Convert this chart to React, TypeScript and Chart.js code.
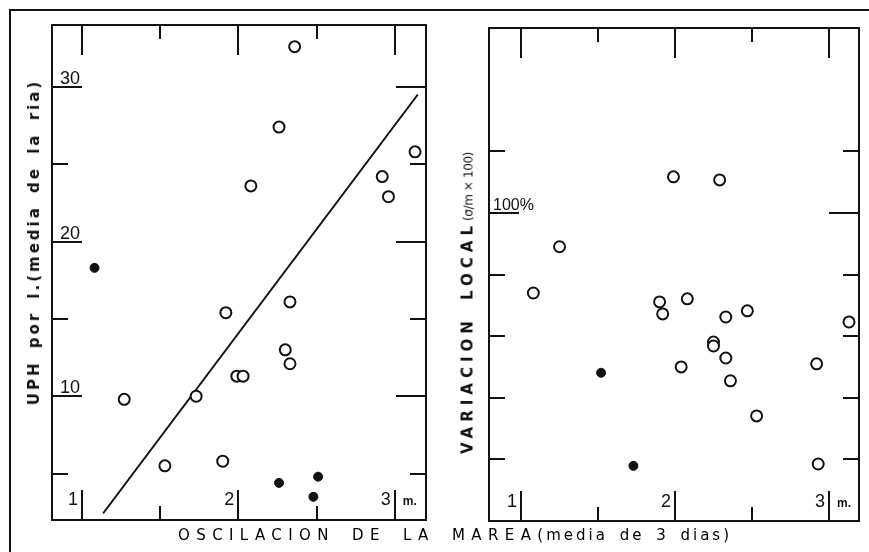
import React, { useEffect, useRef } from "react";
import { Chart, registerables } from "chart.js";

Chart.register(...registerables);

// ---------- Data ----------
// Left panel: UPH por l. vs oscilación de la marea
const leftOpenX = [2.36, 2.26, 3.13, 2.08, 2.92, 2.96, 1.92, 2.33, 2.30, 2.33, 1.99, 2.03, 1.73, 1.27, 1.53, 1.90];
const leftOpenY = [32.6, 27.4, 25.8, 23.6, 24.2, 22.9, 15.4, 16.1, 13.0, 12.1, 11.3, 11.3, 10.0, 9.8, 5.5, 5.8];
const leftFilledX = [1.08, 2.26, 2.51, 2.48];
const leftFilledY = [18.3, 4.4, 4.8, 3.5];
const trendX = [1.135, 3.147];
const trendY = [2.43, 29.5];

// Right panel: variación local vs oscilación de la marea
const rightOpenX = [1.99, 2.29, 1.25, 1.08, 1.90, 1.92, 2.08, 2.33, 2.47, 3.13, 2.25, 2.25, 2.33, 2.04, 2.92, 2.36, 2.53, 2.93];
const rightOpenY = [111.7, 110.7, 89.0, 74.0, 71.1, 67.2, 72.1, 66.2, 68.2, 64.6, 58.1, 56.8, 52.9, 50.0, 51.0, 45.5, 34.1, 18.5];
const rightFilledX = [1.52, 1.73];
const rightFilledY = [48.1, 17.9];

// Ticks
const xTickValues = [1, 1.5, 2, 2.5, 3];
const xTickLabels = ["1", "", "2", "", "3"];
const xUnitLabel = "m.";
const leftYTickValues = [5, 10, 15, 20, 25, 30];
const leftYTickLabels = ["", "10", "", "20", "", "30"];
const rightYTickValues = [20, 40, 60, 80, 100, 120];
const rightYTickLabels = ["", "", "", "", "100%", ""];

const xTitleCaps = "OSCILACION DE LA MAREA";
const xTitleRest = "(media de 3 dias)";
const leftYTitle = "UPH por l.(media de la ria)";
const rightYTitleCaps = "VARIACION LOCAL";
const rightYTitleRest = "(σ/m × 100)";

const toPts = (xs: number[], ys: number[]) => xs.map((x, i) => ({ x, y: ys[i] }));

type PanelProps = {
  left: number;
  width: number;
  padding: { left: number; right: number; top: number; bottom: number };
  xMin: number;
  xMax: number;
  yMin: number;
  yMax: number;
  openX: number[];
  openY: number[];
  filledX: number[];
  filledY: number[];
  lineX?: number[];
  lineY?: number[];
  yTicks: number[];
  yLabels: string[];
  yLabelFont: string;
  yLabelDx: number;
  xLabelBaseline: number;
};

function Panel(p: PanelProps) {
  const ref = useRef<HTMLCanvasElement | null>(null);
  useEffect(() => {
    if (!ref.current) return;
    const framePlugin = {
      id: "frameTicks",
      beforeDatasetsDraw(chart: any) {
        const { ctx, chartArea: a, scales } = chart;
        const sx = scales.x;
        const sy = scales.y;
        ctx.save();
        ctx.strokeStyle = "#111";
        ctx.fillStyle = "#111";
        ctx.lineWidth = 2;
        ctx.lineCap = "butt";
        ctx.strokeRect(a.left, a.top, a.right - a.left, a.bottom - a.top);
        ctx.beginPath();
        xTickValues.forEach((v, i) => {
          const x = Math.round(sx.getPixelForValue(v));
          const major = xTickLabels[i] !== "";
          const l = major ? 30 : 14;
          ctx.moveTo(x, a.top);
          ctx.lineTo(x, a.top + l);
          ctx.moveTo(x, a.bottom);
          ctx.lineTo(x, a.bottom - l);
        });
        p.yTicks.forEach((v, i) => {
          const y = Math.round(sy.getPixelForValue(v));
          const major = p.yLabels[i] !== "";
          const l = major ? 30 : 16;
          ctx.moveTo(a.left, y);
          ctx.lineTo(a.left + l, y);
          ctx.moveTo(a.right, y);
          ctx.lineTo(a.right - l, y);
        });
        ctx.stroke();
        // y labels
        ctx.font = p.yLabelFont;
        ctx.textAlign = "left";
        ctx.textBaseline = "alphabetic";
        p.yTicks.forEach((v, i) => {
          if (!p.yLabels[i]) return;
          const y = sy.getPixelForValue(v);
          ctx.fillText(p.yLabels[i], a.left + p.yLabelDx, y - 3);
        });
        // x labels
        ctx.font = "18px 'Liberation Sans'";
        ctx.textAlign = "right";
        xTickValues.forEach((v, i) => {
          if (!xTickLabels[i]) return;
          const x = sx.getPixelForValue(v);
          ctx.fillText(xTickLabels[i], x - 4, p.xLabelBaseline);
        });
        ctx.font = "bold 12px 'Liberation Sans'";
        ctx.textAlign = "left";
        ctx.fillText(xUnitLabel, sx.getPixelForValue(3) + 8, p.xLabelBaseline);
        ctx.restore();
      },
    };
    const datasets: any[] = [
      {
        data: toPts(p.openX, p.openY),
        pointRadius: 5.5,
        pointBorderWidth: 2,
        pointBorderColor: "#111",
        pointBackgroundColor: "#fff",
        showLine: false,
      },
      {
        data: toPts(p.filledX, p.filledY),
        pointRadius: 4.5,
        pointBorderWidth: 1,
        pointBorderColor: "#111",
        pointBackgroundColor: "#111",
        showLine: false,
      },
    ];
    if (p.lineX && p.lineY) {
      datasets.push({
        data: toPts(p.lineX, p.lineY),
        showLine: true,
        pointRadius: 0,
        borderColor: "#111",
        borderWidth: 1.8,
        fill: false,
      });
    }
    const chart = new Chart(ref.current, {
      type: "scatter",
      data: { datasets },
      options: {
        animation: false,
        responsive: false,
        maintainAspectRatio: false,
        clip: false as any,
        layout: { padding: p.padding },
        plugins: { legend: { display: false }, tooltip: { enabled: false } },
        scales: {
          x: { type: "linear", min: p.xMin, max: p.xMax, display: false },
          y: { type: "linear", min: p.yMin, max: p.yMax, display: false },
        },
      },
      plugins: [framePlugin],
    });
    return () => chart.destroy();
  }, []);
  return (
    <canvas
      ref={ref}
      width={p.width}
      height={552}
      style={{ position: "absolute", left: p.left, top: 0, width: p.width, height: 552 }}
    />
  );
}

export default function App() {
  const titleFont = "'DejaVu Sans', sans-serif";
  return (
    <div style={{ position: "absolute", left: 0, top: 0, width: 869, height: 552, background: "#fff", overflow: "hidden" }}>
      <div
        style={{
          position: "absolute",
          left: 9,
          top: 9,
          width: 870,
          height: 560,
          borderTop: "2px solid #111",
          borderLeft: "2px solid #111",
        }}
      />
      <Panel
        left={0}
        width={440}
        padding={{ left: 52, right: 14, top: 25, bottom: 32 }}
        xMin={0.808}
        xMax={3.2}
        yMin={2}
        yMax={34}
        openX={leftOpenX}
        openY={leftOpenY}
        filledX={leftFilledX}
        filledY={leftFilledY}
        lineX={trendX}
        lineY={trendY}
        yTicks={leftYTickValues}
        yLabels={leftYTickLabels}
        yLabelFont="18px 'Liberation Sans'"
        yLabelDx={8}
        xLabelBaseline={505}
      />
      <Panel
        left={440}
        width={429}
        padding={{ left: 49, right: 10, top: 28, bottom: 31 }}
        xMin={0.792}
        xMax={3.195}
        yMin={0}
        yMax={160}
        openX={rightOpenX}
        openY={rightOpenY}
        filledX={rightFilledX}
        filledY={rightFilledY}
        yTicks={rightYTickValues}
        yLabels={rightYTickLabels}
        yLabelFont="16px 'Liberation Sans'"
        yLabelDx={4}
        xLabelBaseline={507}
      />
      <div
        style={{
          position: "absolute",
          left: 178,
          top: 526,
          fontFamily: titleFont,
          fontSize: 15,
          color: "#000",
          whiteSpace: "nowrap",
          lineHeight: "18px",
        }}
      >
        <span style={{ letterSpacing: 6.4, wordSpacing: 6 }}>{xTitleCaps}</span>
        <span style={{ letterSpacing: 3, wordSpacing: 4 }}>{xTitleRest}</span>
      </div>
      <div
        style={{
          position: "absolute",
          left: 34,
          top: 242,
          transform: "translate(-50%, -50%) rotate(-90deg)",
          fontFamily: titleFont,
          fontSize: 15,
          fontWeight: "bold",
          color: "#111",
          whiteSpace: "nowrap",
          letterSpacing: 3,
          wordSpacing: 4,
          lineHeight: "18px",
        }}
      >
        {leftYTitle}
      </div>
      <div
        style={{
          position: "absolute",
          left: 468,
          top: 303,
          transform: "translate(-50%, -50%) rotate(-90deg)",
          fontFamily: titleFont,
          color: "#111",
          whiteSpace: "nowrap",
          lineHeight: "18px",
        }}
      >
        <span style={{ fontSize: 15, fontWeight: "bold", letterSpacing: 5, wordSpacing: 6 }}>{rightYTitleCaps}</span>
        <span style={{ fontSize: 12, letterSpacing: -0.4 }}>{rightYTitleRest}</span>
      </div>
    </div>
  );
}
